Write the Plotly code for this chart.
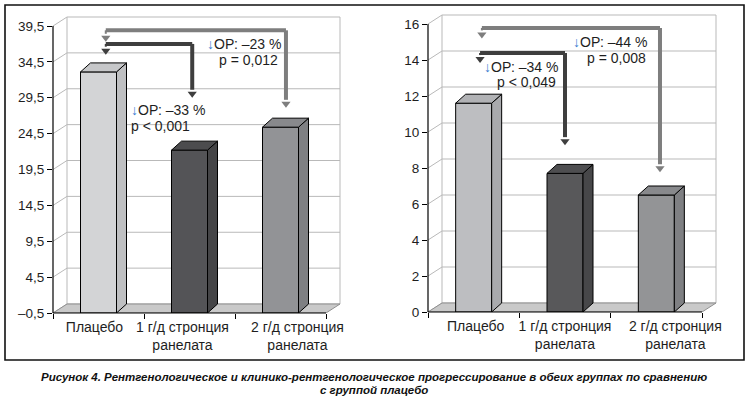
import plotly.graph_objects as go

# ---------------- data ----------------
categories = ["Плацебо", "1 г/д стронция<br>ранелата", "2 г/д стронция<br>ранелата"]
left_values = [33.1, 22.2, 25.4]
right_values = [11.6, 7.7, 6.5]
left_ticks = [-0.5, 4.5, 9.5, 14.5, 19.5, 24.5, 29.5, 34.5, 39.5]
left_ticktext = ["–0,5", "4,5", "9,5", "14,5", "19,5", "24,5", "29,5", "34,5", "39,5"]
right_ticks = [0, 2, 4, 6, 8, 10, 12, 14, 16]
right_ticktext = ["0", "2", "4", "6", "8", "10", "12", "14", "16"]
left_notes = [("↓ОР: –33 %", "p < 0,001"), ("↓ОР: –23 %", "p = 0,012")]
right_notes = [("↓ОР: –34 %", "p < 0,049"), ("↓ОР: –44 %", "p = 0,008")]
caption_lines = ["Рисунок 4. Рентгенологическое и клинико-рентгенологическое прогрессирование в обеих группах по сравнению",
                 "с группой плацебо"]

W, H = 751, 399
FONT = "Liberation Sans, Arial, sans-serif"
TXT = "#1e1e1e"

front_left = ["#d3d4d6", "#545457", "#929396"]
side_left = ["#bfc0c2", "#454547", "#7f8083"]
top_left = ["#c6c7c9", "#4c4c4e", "#88898c"]
front_right = ["#bdbec1", "#58585a", "#939496"]
side_right = ["#a9aaad", "#474749", "#7f8083"]
top_right = ["#b1b2b5", "#4e4e50", "#88898c"]

fig = go.Figure()
shapes = []
annotations = []


def px2paper_x(px):
    return px / W


def px2paper_y(py):
    return 1 - py / H


def build_panel(idx, values, ticks, ticktext, base, top_val, fx0, fx1, fy0, fytop,
                front_c, side_c, top_c, arrows, notes, label_shift):
    xa = "x" if idx == 1 else "x%d" % idx
    ya = "y" if idx == 1 else "y%d" % idx
    kx = "xaxis" if idx == 1 else "xaxis%d" % idx
    ky = "yaxis" if idx == 1 else "yaxis%d" % idx
    ppx = (fx1 - fx0) / 3.0              # pixels per category unit
    ppy = (fy0 - fytop) / (top_val - base)  # pixels per value unit
    wall_dx, wall_dy = 14 / ppx, 9 / ppy
    bar_dx, bar_dy = 10 / ppx, 9 / ppy
    bw = 36 / ppx
    dom_x1 = fx1 + 17
    dom_ytop = fytop - 12
    xr = [-0.5, -0.5 + (dom_x1 - fx0) / ppx]
    yr = [base, base + (fy0 - dom_ytop) / ppy]

    fig.update_layout(**{
        kx: dict(domain=[px2paper_x(fx0), px2paper_x(dom_x1)], range=xr, anchor=ya,
                 automargin=False, fixedrange=True, tickangle=0, ticklabelstandoff=4,
                 tickmode="array", tickvals=[i + s / ppx for i, s in enumerate(label_shift)],
                 ticktext=categories, ticks="",
                 showgrid=False, zeroline=False, showline=False,
                 tickfont=dict(family=FONT, size=14, color=TXT),
                 minor=dict(tickmode="array", tickvals=[-0.5, 0.5, 1.5, 2.5], ticks="outside",
                            ticklen=5, tickcolor="#000", showgrid=False)),
        ky: dict(domain=[px2paper_y(fy0), px2paper_y(dom_ytop)], range=yr, anchor=xa,
                 automargin=False, fixedrange=True,
                 tickmode="array", tickvals=ticks, ticktext=ticktext, ticks="outside",
                 ticklen=5, tickcolor="#000", showgrid=False, zeroline=False, showline=False,
                 tickfont=dict(family=FONT, size=13.5, color=TXT)),
    })

    # back-wall gridlines (with left-wall diagonal)
    for t in ticks:
        shapes.append(dict(type="path", xref=xa, yref=ya, layer="below",
                           path="M %f,%f L %f,%f L %f,%f" % (-0.5, t, -0.5 + wall_dx, t + wall_dy,
                                                         2.5 + wall_dx, t + wall_dy),
                           line=dict(color="#b9b9b9", width=1)))
    for xx in (-0.5 + wall_dx, 2.5 + wall_dx):
        shapes.append(dict(type="line", xref=xa, yref=ya, layer="below",
                           x0=xx, x1=xx, y0=base + wall_dy, y1=ticks[-1] + wall_dy,
                           line=dict(color="#b9b9b9", width=1)))
    # floor
    shapes.append(dict(type="path", xref=xa, yref=ya, layer="below",
                       path="M %f,%f L %f,%f L %f,%f L %f,%f Z" % (
                           -0.5, base, 2.5, base, 2.5 + wall_dx, base + wall_dy,
                           -0.5 + wall_dx, base + wall_dy),
                       fillcolor="#c9c9c9", line=dict(color="#8f8f8f", width=1)))
    # axis lines
    shapes.append(dict(type="line", xref=xa + " domain", yref=ya, x0=0, x1=0,
                       y0=base, y1=ticks[-1], line=dict(color="#000", width=1.2)))
    shapes.append(dict(type="line", xref=xa, yref=ya + " domain", x0=-0.5, x1=2.5,
                       y0=0, y1=0, line=dict(color="#000", width=1.2)))

    # bars (front faces)
    fig.add_trace(go.Bar(x=[0, 1, 2], y=[v - base for v in values], base=base, width=bw,
                         marker=dict(color=front_c, line=dict(color="#000", width=1)),
                         xaxis=xa, yaxis=ya, showlegend=False, hoverinfo="skip"))
    # side and top faces
    for i, v in enumerate(values):
        xl, xrr = i - bw / 2, i + bw / 2
        fig.add_trace(go.Scatter(
            x=[xrr, xrr + bar_dx, xrr + bar_dx, xrr, xrr],
            y=[base, base + bar_dy, v + bar_dy, v, base],
            fill="toself", fillcolor=side_c[i], mode="lines",
            line=dict(color="#000", width=1), xaxis=xa, yaxis=ya,
            showlegend=False, hoverinfo="skip"))
        fig.add_trace(go.Scatter(
            x=[xl, xl + bar_dx, xrr + bar_dx, xrr, xl],
            y=[v, v + bar_dy, v + bar_dy, v, v],
            fill="toself", fillcolor=top_c[i], mode="lines",
            line=dict(color="#000", width=1), xaxis=xa, yaxis=ya,
            showlegend=False, hoverinfo="skip"))

    # arrows
    head = 8
    for (xl, xrg, yh, tipl, tipr, col) in arrows:
        off = (head / 2) / ppy
        fig.add_trace(go.Scatter(x=[xrg, xrg], y=[yh, tipr + 2 * off], mode="lines",
                                 line=dict(color=col, width=4), xaxis=xa, yaxis=ya,
                                 showlegend=False, hoverinfo="skip"))
        fig.add_trace(go.Scatter(x=[xl, xrg], y=[yh, yh], mode="lines",
                                 line=dict(color=col, width=4), xaxis=xa, yaxis=ya,
                                 showlegend=False, hoverinfo="skip"))
        fig.add_trace(go.Scatter(x=[xl, xl], y=[yh, tipl + 2 * off], mode="lines",
                                 line=dict(color=col, width=2), xaxis=xa, yaxis=ya,
                                 showlegend=False, hoverinfo="skip"))
        fig.add_trace(go.Scatter(x=[xl, xrg], y=[tipl + off, tipr + off], mode="markers",
                                 marker=dict(symbol="triangle-down", size=head, color=col,
                                             line=dict(width=0)),
                                 xaxis=xa, yaxis=ya, showlegend=False, hoverinfo="skip"))

    # notes
    for (line1, line2), (x1, y1, x2, y2, anc) in notes:
        txt1 = line1.replace("↓", "<span style='color:#3a7dd0'>↓</span>")
        annotations.append(dict(xref=xa, yref=ya, x=x1, y=y1, text=txt1, showarrow=False,
                                xanchor=anc, yanchor="middle",
                                font=dict(family=FONT, size=14, color=TXT)))
        annotations.append(dict(xref=xa, yref=ya, x=x2, y=y2, text=line2, showarrow=False,
                                xanchor=anc, yanchor="middle",
                                font=dict(family=FONT, size=14, color=TXT)))


build_panel(1, left_values, left_ticks, left_ticktext, -0.5, 39.5, 53, 326, 313, 26,
            front_left, side_left, top_left,
            arrows=[(0.08, 2.06, 38.9, 37.3, 28.1, "#7e7e7e"),
                    (0.08, 1.03, 37.0, 35.5, 29.5, "#3e3e3e")],
            notes=list(zip(left_notes, [(0.33, 27.8, 0.33, 25.56, "left"),
                                        (2.03, 37.0, 1.99, 34.76, "right")])),
            label_shift=[-4, -7, 17])
build_panel(2, right_values, right_ticks, right_ticktext, 0, 16, 428, 702, 312, 24,
            front_right, side_right, top_right,
            arrows=[(0.09, 2.04, 15.78, 15.2, 7.77, "#7e7e7e"),
                    (0.07, 1.0, 14.39, 13.83, 9.27, "#3e3e3e")],
            notes=list(zip(right_notes, [(0.94, 13.61, 0.92, 12.78, "right"),
                                         (1.92, 15.0, 1.91, 14.11, "right")])),
            label_shift=[2, 0, 19])

# outer frame
shapes.append(dict(type="rect", xref="paper", yref="paper",
                   x0=px2paper_x(5), x1=px2paper_x(744), y0=px2paper_y(360), y1=px2paper_y(5),
                   line=dict(color="#111", width=1.6)))

# caption
for line, py in zip(caption_lines, [377, 390]):
    annotations.append(dict(xref="paper", yref="paper", x=px2paper_x(374), y=px2paper_y(py),
                            text=line, showarrow=False, xanchor="center", yanchor="middle",
                            font=dict(family="Liberation Sans, Arial", size=11.5, color="#111",
                                      weight="bold", style="italic")))

fig.update_layout(template="none", width=W, height=H, margin=dict(l=0, r=0, t=0, b=0, pad=0),
                  paper_bgcolor="white", plot_bgcolor="rgba(0,0,0,0)",
                  shapes=shapes, annotations=annotations, barmode="overlay",
                  showlegend=False)

fig.write_html("out.html", config={"displayModeBar": False},
               post_script="document.body.style.margin='0px';document.body.style.overflow='hidden';")
